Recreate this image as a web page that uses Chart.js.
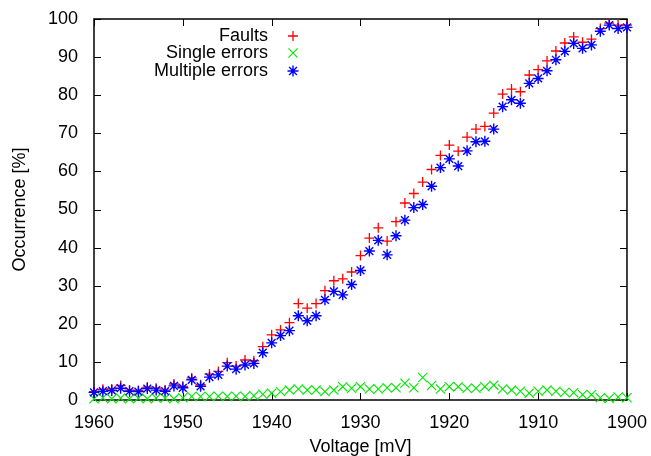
<!DOCTYPE html>
<html>
<head>
<meta charset="utf-8">
<script src="https://cdn.jsdelivr.net/npm/chart.js@4.4.1/dist/chart.umd.min.js"></script>
<style>
  html, body { margin: 0; padding: 0; background: #fff; }
  canvas { display: block; }
</style>
</head>
<body>
<canvas id="chart" width="651" height="456"></canvas>
<script>
const voltage = [
    1960, 1959, 1958, 1957, 1956, 1955, 1954, 1953, 1952, 1951,
    1950, 1949, 1948, 1947, 1946, 1945, 1944, 1943, 1942, 1941,
    1940, 1939, 1938, 1937, 1936, 1935, 1934, 1933, 1932, 1931,
    1930, 1929, 1928, 1927, 1926, 1925, 1924, 1923, 1922, 1921,
    1920, 1919, 1918, 1917, 1916, 1915, 1914, 1913, 1912, 1911,
    1910, 1909, 1908, 1907, 1906, 1905, 1904, 1903, 1902, 1901,
    1900,
]
const faults = [
    2.2, 2.8, 2.9, 3.8, 2.6, 2.5, 3.4, 3.1, 2.6, 4.2,
    3.6, 5.8, 4.0, 6.8, 7.5, 9.8, 8.9, 10.5, 10.3, 14.0,
    17.1, 18.4, 20.3, 25.3, 24.1, 25.3, 28.7, 31.3, 31.8, 33.6,
    37.9, 42.5, 45.2, 41.7, 46.8, 51.7, 54.2, 57.2, 60.5, 64.2,
    66.9, 65.3, 69.0, 71.1, 71.8, 75.3, 80.3, 81.6, 80.9, 85.3,
    86.7, 89.0, 91.6, 93.7, 95.3, 93.9, 94.7, 97.5, 98.9, 98.4,
    98.4,
]
const singleErrors = [
    0.3, 0.6, 0.3, 0.5, 0.3, 0.5, 0.3, 0.5, 0.5, 0.3,
    0.6, 0.9, 0.9, 0.9, 1.0, 0.9, 1.0, 0.9, 1.1, 1.5,
    1.8, 2.2, 2.6, 2.9, 2.6, 2.6, 2.2, 2.6, 3.5, 3.1,
    3.5, 2.9, 2.9, 3.2, 3.2, 4.4, 3.2, 5.9, 3.8, 2.9,
    3.5, 3.5, 3.1, 3.1, 3.5, 3.9, 2.9, 2.6, 2.3, 1.8,
    2.3, 2.6, 2.3, 2.0, 1.9, 1.4, 1.4, 0.6, 0.4, 0.8,
    0.6,
]
const multipleErrors = [
    2.0, 2.3, 2.5, 3.1, 2.3, 2.2, 3.0, 2.6, 2.3, 3.7,
    3.2, 5.3, 3.6, 6.0, 6.6, 8.9, 8.1, 9.2, 9.6, 12.4,
    15.0, 16.9, 18.2, 22.1, 20.8, 22.1, 26.3, 28.5, 27.6, 30.3,
    34.0, 39.1, 41.9, 38.1, 43.1, 47.2, 50.5, 51.3, 56.1, 61.0,
    63.3, 61.4, 65.4, 67.8, 67.9, 71.1, 77.0, 78.8, 77.9, 83.1,
    84.4, 86.4, 89.3, 91.5, 93.6, 92.3, 93.2, 96.8, 98.4, 97.5,
    97.8,
]
const xTicks = [1960, 1950, 1940, 1930, 1920, 1910, 1900]
const yTicks = [0, 10, 20, 30, 40, 50, 60, 70, 80, 90, 100]

const FONT = '"Liberation Sans", Arial, Helvetica, sans-serif'
const FONT_SIZE = 18

const pairs = values => voltage.map((v, i) => ({ x: v, y: values[i] }))

// gnuplot style: frame on all four sides, ticks pointing inwards
const framePlugin = {
    id: 'frame',
    beforeDatasetsDraw(chart) {
        const { ctx, chartArea: a, scales: { x, y } } = chart
        const len = 7
        ctx.save()
        ctx.strokeStyle = '#000'
        ctx.lineWidth = 1
        ctx.beginPath()
        xTicks.forEach(v => {
            const px = Math.round(x.getPixelForValue(v)) + 0.5
            ctx.moveTo(px, a.bottom); ctx.lineTo(px, a.bottom - len)
            ctx.moveTo(px, a.top); ctx.lineTo(px, a.top + len)
        })
        yTicks.forEach(v => {
            const py = Math.round(y.getPixelForValue(v)) + 0.5
            ctx.moveTo(a.left, py); ctx.lineTo(a.left + len, py)
            ctx.moveTo(a.right, py); ctx.lineTo(a.right - len, py)
        })
        ctx.stroke()
        ctx.lineWidth = 1.5
        ctx.strokeRect(a.left, a.top, a.right - a.left, a.bottom - a.top)
        ctx.restore()
    }
}

// key in the top left corner: right aligned text, symbol after it
const keyPlugin = {
    id: 'key',
    afterDraw(chart) {
        const { ctx } = chart
        const textRight = 268, symbolX = 293, rowY = [36, 53, 71]
        ctx.save()
        ctx.font = `${FONT_SIZE}px ${FONT}`
        ctx.textAlign = 'right'
        ctx.textBaseline = 'middle'
        chart.data.datasets.forEach((ds, i) => {
            ctx.fillStyle = '#000'
            ctx.fillText(ds.label, textRight, rowY[i])
            ctx.strokeStyle = ds.borderColor
            ctx.fillStyle = ds.borderColor
            ctx.lineWidth = ds.borderWidth
            Chart.helpers.drawPoint(ctx, {
                pointStyle: ds.pointStyle,
                radius: ds.pointRadius,
                rotation: 0,
                borderWidth: ds.borderWidth,
            }, symbolX, rowY[i])
        })
        ctx.restore()
    }
}

const datasets = [
    {
        label: 'Faults',
        data: pairs(faults),
        pointStyle: 'cross',
        pointRadius: 5,
        borderColor: '#ff0000',
        backgroundColor: '#ff0000',
        borderWidth: 1.3,
        order: 3,
    },
    {
        label: 'Single errors',
        data: pairs(singleErrors),
        pointStyle: 'crossRot',
        pointRadius: 6.5,
        borderColor: '#00e600',
        backgroundColor: '#00e600',
        borderWidth: 1.1,
        order: 2,
    },
    {
        label: 'Multiple errors',
        data: pairs(multipleErrors),
        pointStyle: 'star',
        pointRadius: 5.5,
        borderColor: '#0000ff',
        backgroundColor: '#0000ff',
        borderWidth: 1.4,
        order: 1,
    },
]
datasets.forEach(ds => {
    ds.showLine = false
    ds.clip = false
    ds.pointHoverRadius = ds.pointRadius
})

const tickFont = { family: FONT, size: FONT_SIZE }
const titleFont = { family: FONT, size: FONT_SIZE, lineHeight: 1 }

new Chart(document.getElementById('chart'), {
    type: 'scatter',
    data: { datasets },
    options: {
        responsive: false,
        animation: false,
        devicePixelRatio: 1,
        layout: { padding: { top: 19, right: 23, left: 0, bottom: 0 } },
        plugins: { legend: { display: false }, tooltip: { enabled: false } },
        scales: {
            x: {
                type: 'linear',
                reverse: true,
                min: 1900,
                max: 1960,
                afterBuildTicks: scale => { scale.ticks = xTicks.map(value => ({ value })) },
                afterFit: scale => { scale.height = 56 },
                grid: { display: false },
                border: { display: false },
                ticks: { color: '#000', padding: 4, font: tickFont, maxRotation: 0, callback: v => String(v) },
                title: {
                    display: true,
                    text: 'Voltage [mV]',
                    color: '#000',
                    font: titleFont,
                    padding: { top: 0, bottom: 0 },
                },
            },
            y: {
                min: 0,
                max: 100,
                afterBuildTicks: scale => { scale.ticks = yTicks.map(value => ({ value })) },
                afterFit: scale => { scale.width = 94 },
                grid: { display: false },
                border: { display: false },
                ticks: { color: '#000', padding: 8, font: tickFont, callback: v => String(v) },
                title: {
                    display: true,
                    text: 'Occurrence [%]',
                    color: '#000',
                    font: titleFont,
                    padding: { top: 11, bottom: 0 },
                },
            },
        },
    },
    plugins: [framePlugin, keyPlugin],
})
</script>
</body>
</html>
